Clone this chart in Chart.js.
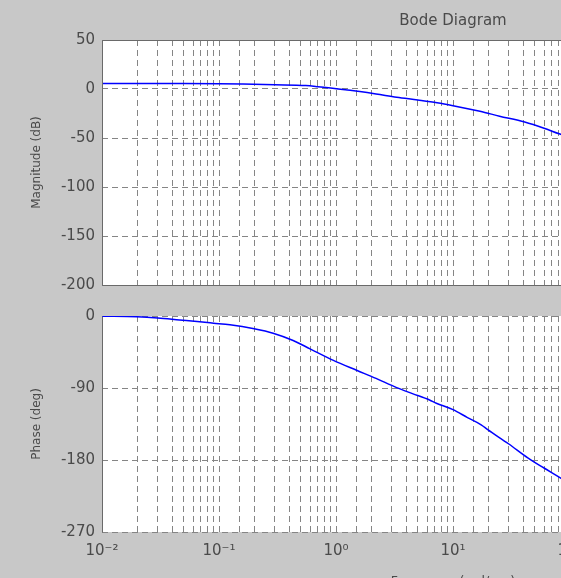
<!DOCTYPE html>
<html><head><meta charset="utf-8">
<script src="https://cdn.jsdelivr.net/npm/chart.js@4.4.0/dist/chart.umd.min.js"></script>
<style>
html,body{margin:0;padding:0;background:#c8c8c8;overflow:hidden;}
#wrap{position:relative;width:561px;height:578px;overflow:hidden;background:#c8c8c8;}
#topc{position:absolute;left:0;top:0;}
#botc{position:absolute;left:0;top:300px;}
</style></head><body>
<div id="wrap">
<canvas id="topc" width="900" height="301"></canvas>
<canvas id="botc" width="900" height="300"></canvas>
</div>
<script>
// ---- data ----
const magFreq = [0.01, 0.05, 0.1, 0.16, 0.3, 0.55, 0.7, 0.9, 1.2, 1.6, 2.2, 3.3, 5, 7.3, 10, 17, 25, 41, 60, 82, 100];
const magDb   = [5.6, 5.6, 5.4, 5.0, 4.3, 3.5, 2.4, 1.0, -0.8, -2.6, -5, -8.4, -11.2, -14, -17, -22.8, -27.7, -33.7, -40, -46, -49];
const phaseFreq = [0.01, 0.02, 0.03, 0.046, 0.065, 0.09, 0.124, 0.2, 0.29, 0.43, 0.6, 0.95, 1.5, 2.2, 3.3, 4.5, 6.3, 7.2, 10, 13.3, 17.4, 19.8, 30, 43.6, 60, 82, 100];
const phaseDeg  = [-0.3, -1, -2.5, -5, -7, -9, -11, -16, -21.5, -30.6, -41, -55.4, -67.8, -78, -89.5, -97, -105, -109, -117, -127, -136, -142, -160, -177.4, -190, -202, -210];
const magTicks = [50, 0, -50, -100, -150, -200];
const phaseTicks = [0, -90, -180, -270];
const decadeLabels = {'-2':'10⁻²', '-1':'10⁻¹', '0':'10⁰', '1':'10¹', '2':'10²', '3':'10³', '4':'10⁴'};
const freqMin = 0.01, freqMax = 10000;

const TXT = '#4a4a4a';
const GRID = '#858585';
const FRAME = '#6a6a6a';
const FONT = 'DejaVu Sans';

function decadeLabel(v) {
  const e = Math.log10(v);
  const r = Math.round(e);
  if (Math.abs(e - r) < 1e-6) return decadeLabels[String(r)] || '';
  return '';
}

const bgFrame = {
  id: 'bgFrame',
  beforeDraw(chart) {
    const a = chart.chartArea, c = chart.ctx;
    c.save(); c.fillStyle = '#ffffff';
    c.fillRect(a.left, a.top, a.right - a.left, a.bottom - a.top);
    c.restore();
  },
  afterDraw(chart, args, opts) {
    const a = chart.chartArea, c = chart.ctx;
    c.save(); c.strokeStyle = FRAME; c.lineWidth = 1; c.setLineDash([]);
    const L = Math.round(a.left) + 0.5, R = Math.round(a.right) + 0.5, T = Math.round(a.top) + 0.5, B = Math.round(a.bottom) + 0.5;
    c.beginPath();
    if (opts.full) {
      c.rect(L, T, R - L, B - T);
    } else {
      c.moveTo(L, T); c.lineTo(L, B);
    }
    c.stroke(); c.restore();
  }
};

function xScale(showLabels) {
  return {
    type: 'logarithmic', min: freqMin, max: freqMax,
    grid: { color: GRID, lineWidth: 1, drawTicks: false },
    border: { display: false, dash: [6, 4] },
    ticks: {
      display: showLabels, autoSkip: false, maxRotation: 0, minRotation: 0, padding: 10,
      color: TXT, font: { family: FONT, size: 15 },
      callback: (v) => decadeLabel(v)
    },
    title: showLabels ? { display: true, text: 'Frequency (rad/sec)', color: TXT,
      font: { family: FONT, size: 12.5 }, padding: { top: 0, bottom: 10.5 } } : { display: false },
    afterFit(s) { s.height = showLabels ? 68 : 0; }
  };
}

function yScale(min, max, tickArr, label) {
  return {
    min: min, max: max,
    afterBuildTicks(s) { s.ticks = tickArr.map(v => ({ value: v })); },
    grid: { color: GRID, lineWidth: 1, drawTicks: false },
    border: { display: false, dash: [6, 4] },
    ticks: { color: TXT, font: { family: FONT, size: 15 }, padding: 7 },
    title: { display: true, text: label, color: TXT, font: { family: FONT, size: 12 }, padding: { top: 30, bottom: 0 } },
    afterFit(s) { s.width = 102; }
  };
}

new Chart(document.getElementById('topc'), {
  type: 'line',
  data: { datasets: [{
    data: magFreq.map((f, i) => ({ x: f, y: magDb[i] })),
    borderColor: '#0000ff', borderWidth: 1.5, pointRadius: 0, fill: false,
    cubicInterpolationMode: 'monotone'
  }] },
  options: {
    responsive: false, animation: false,
    layout: { padding: { left: 0, right: 96, top: 0, bottom: 10 } },
    plugins: {
      legend: { display: false }, tooltip: { enabled: false },
      title: { display: true, fullSize: false, text: 'Bode Diagram', color: TXT, font: { family: FONT, size: 15, weight: 'normal' }, padding: { top: 12, bottom: 10 } },
      bgFrame: { full: true }
    },
    scales: { x: xScale(false), y: yScale(-200, 50, magTicks, 'Magnitude (dB)') }
  },
  plugins: [bgFrame]
});

new Chart(document.getElementById('botc'), {
  type: 'line',
  data: { datasets: [{
    data: phaseFreq.map((f, i) => ({ x: f, y: phaseDeg[i] })),
    borderColor: '#0000ff', borderWidth: 1.5, pointRadius: 0, fill: false,
    cubicInterpolationMode: 'monotone'
  }] },
  options: {
    responsive: false, animation: false,
    layout: { padding: { left: 0, right: 96, top: 12, bottom: 0 } },
    plugins: { legend: { display: false }, tooltip: { enabled: false }, bgFrame: { full: false } },
    scales: { x: xScale(true), y: yScale(-270, 0, phaseTicks, 'Phase (deg)') }
  },
  plugins: [bgFrame]
});
</script>
</body></html>
